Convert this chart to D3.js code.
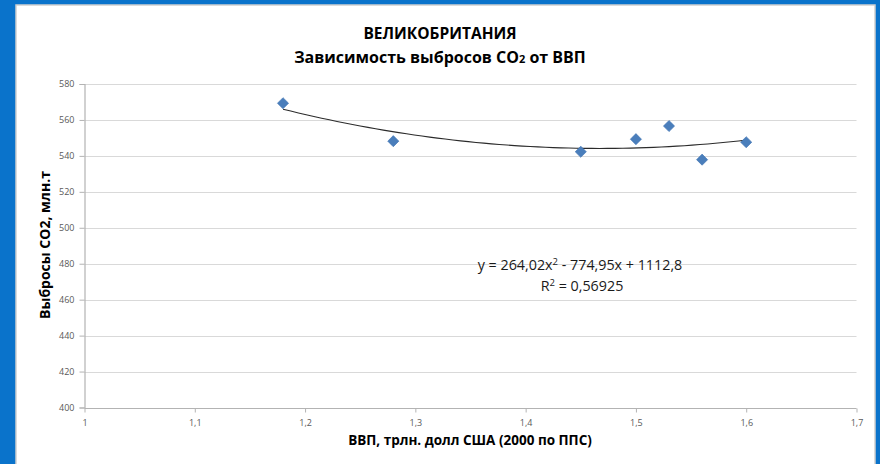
<!DOCTYPE html>
<html>
<head>
<meta charset="utf-8">
<script src="https://cdn.jsdelivr.net/npm/d3@7"></script>
<style>
  html, body { margin: 0; padding: 0; background: #0a73cb; }
  svg { display: block; }
</style>
</head>
<body>
<div id="chart"></div>
<script>
// GDP (trln USD, 2000 PPP) vs CO2 emissions (mln t), UK
const gdp = [1.18, 1.28, 1.45, 1.50, 1.53, 1.56, 1.60];
const co2 = [569.3, 548.2, 542.3, 549.3, 556.6, 537.9, 547.6];

// polynomial trendline as printed on the chart: a*x^2 + b*x + c
const trendCoef = [264.02, -774.95, 1112.8];
const trendText = ["y = 264,02x", " - 774,95x + 1112,8"];
const r2Text = "0,56925";

const xTicks = [1, 1.1, 1.2, 1.3, 1.4, 1.5, 1.6, 1.7];
const yTicks = [400, 420, 440, 460, 480, 500, 520, 540, 560, 580];

const title1 = "ВЕЛИКОБРИТАНИЯ";
const xTitle = "ВВП, трлн. долл США (2000 по ППС)";

const width = 880, height = 464;
const fontFam = "'Open Sans', 'DejaVu Sans', sans-serif";

const svg = d3.select("#chart").append("svg")
  .attr("width", width)
  .attr("height", height);

// white card on the blue background
svg.append("rect")
  .attr("x", 16).attr("y", 5)
  .attr("width", 859).attr("height", 470)
  .attr("fill", "#ffffff")
  .attr("stroke", "#cfcfcf")
  .attr("stroke-width", 1.5);

const x_scale = d3.scaleLinear().domain([1, 1.7]).range([84.5, 856.5]);
const y_scale = d3.scaleLinear().domain([400, 580]).range([407.5, 84]);

// gridlines
svg.append("g")
  .selectAll("line")
  .data(yTicks.slice(1))
  .enter()
  .append("line")
  .attr("x1", x_scale(1))
  .attr("x2", x_scale(1.7))
  .attr("y1", d => Math.round(y_scale(d)) + 0.5)
  .attr("y2", d => Math.round(y_scale(d)) + 0.5)
  .attr("stroke", "#d9d9d9")
  .attr("stroke-width", 1.2);

// y axis
const yAxis = svg.append("g")
  .attr("transform", "translate(" + x_scale(1) + ",0)")
  .call(d3.axisLeft(y_scale).tickValues(yTicks).tickSize(5).tickPadding(5).tickFormat(d3.format("d")));

// x axis
const xAxis = svg.append("g")
  .attr("transform", "translate(0," + (Math.round(y_scale(400)) + 0.5) + ")")
  .call(d3.axisBottom(x_scale).tickValues(xTicks).tickSize(4).tickPadding(7)
    .tickFormat(d => d3.format(".1~f")(d).replace(".", ",")));

[yAxis, xAxis].forEach(ax => {
  ax.select(".domain").attr("stroke", "#b3b3b3").attr("stroke-width", 1.2);
  ax.selectAll(".tick line").attr("stroke", "#b3b3b3");
  ax.selectAll(".tick text")
    .attr("fill", "#595959")
    .style("font-family", fontFam)
    .style("font-size", "9px");
});
xAxis.select(".domain").attr("d", "M" + x_scale(1) + ",0H" + x_scale(1.7));

// trendline
const trendX = d3.range(0, 61).map(i => gdp[0] + (gdp[gdp.length - 1] - gdp[0]) * i / 60);
const poly = x => trendCoef[0] * x * x + trendCoef[1] * x + trendCoef[2];
svg.append("path")
  .datum(trendX)
  .attr("fill", "none")
  .attr("stroke", "#2b2b2b")
  .attr("stroke-width", 1.1)
  .attr("d", d3.line().x(d => x_scale(d)).y(d => y_scale(poly(d))));

// points (diamonds)
svg.append("g")
  .selectAll("path")
  .data(gdp.map((g, i) => ({ g: g, c: co2[i] })))
  .enter()
  .append("path")
  .attr("d", d3.symbol(d3.symbolSquare, 62))
  .attr("transform", d => "translate(" + x_scale(d.g) + "," + y_scale(d.c) + ") rotate(45)")
  .attr("fill", "#4a7ebb")
  .attr("stroke", "#3f73b3")
  .attr("stroke-width", 0.6);

// titles
const titles = svg.append("g")
  .style("font-family", fontFam)
  .style("font-weight", "bold")
  .attr("fill", "#000")
  .attr("text-anchor", "middle");

titles.append("text")
  .attr("x", 440).attr("y", 39)
  .style("font-size", "15.5px")
  .text(title1);

const sub = titles.append("text")
  .attr("x", 440).attr("y", 63)
  .style("font-size", "16px");
sub.append("tspan").text("Зависимость выбросов CO");
sub.append("tspan").style("font-size", "11px").text("2");
sub.append("tspan").text(" от ВВП");

titles.append("text")
  .attr("transform", "translate(50,245) rotate(-90)")
  .style("font-size", "14px")
  .text("Выбросы CO2, млн.т");

titles.append("text")
  .attr("x", 470).attr("y", 445)
  .style("font-size", "13.5px")
  .text(xTitle);

// trend equation
const eq = svg.append("g")
  .style("font-family", fontFam)
  .style("font-size", "14.3px")
  .attr("fill", "#1a1a1a")
  .attr("text-anchor", "middle");

const eq1 = eq.append("text").attr("x", 580).attr("y", 270);
eq1.append("tspan").text(trendText[0]);
eq1.append("tspan").attr("dy", -5).style("font-size", "9.5px").text("2");
eq1.append("tspan").attr("dy", 5).text(trendText[1]);

const eq2 = eq.append("text").attr("x", 582).attr("y", 291);
eq2.append("tspan").text("R");
eq2.append("tspan").attr("dy", -5).style("font-size", "9.5px").text("2");
eq2.append("tspan").attr("dy", 5).text(" = " + r2Text);
</script>
</body>
</html>
